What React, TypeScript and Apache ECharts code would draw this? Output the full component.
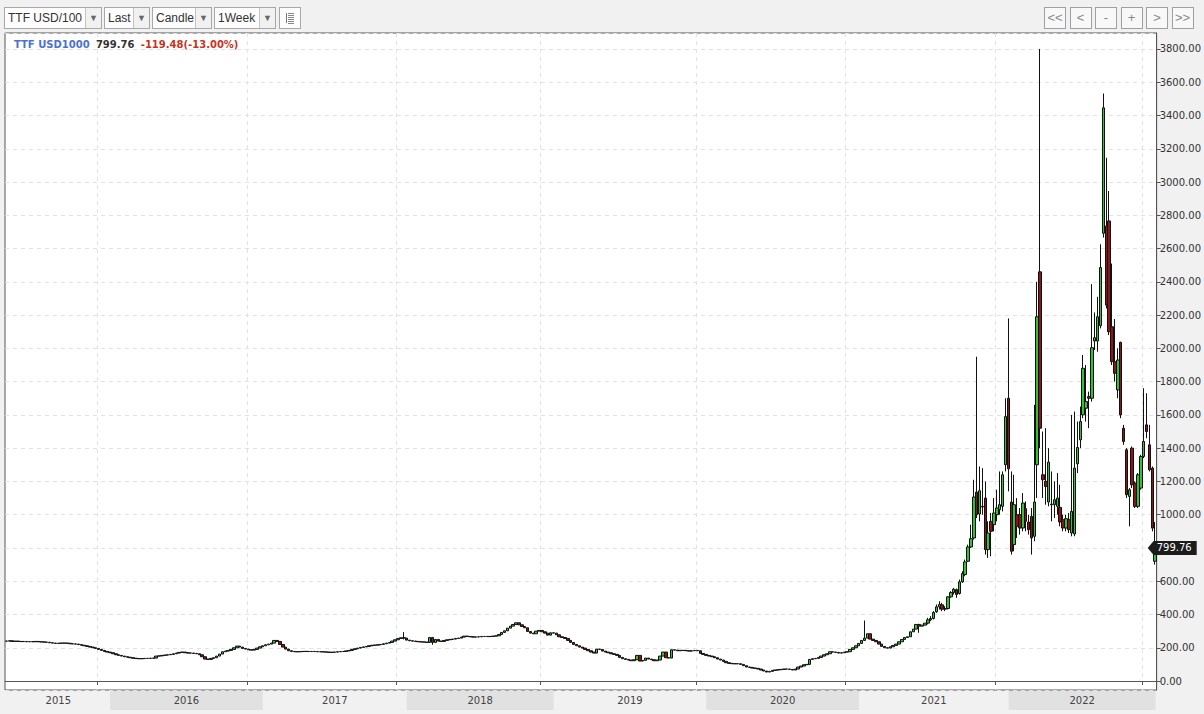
import { useEffect, useRef } from 'react';
import * as echarts from 'echarts';

// weekly candles, first week 2015-05-25
const startDate = Date.UTC(2015, 4, 25);

// quiet years: weekly closes (open = previous close)
const calmCloses = [
  240, 242, 238, 240, 238, 237, 238, 236, 237, 236, 238, 236, 235, 234, 233, 230, 228, 226, 227, 228,
  228, 227, 224, 223, 222, 219, 215, 212, 208, 204, 200, 196, 190,
  184, 178, 174, 170, 164, 158, 154, 150, 146, 143, 140, 137, 135, 134, 135, 136, 136, 137, 138, 150,
  151, 154, 156, 158, 160, 164, 168, 172, 174, 170, 168, 168, 166, 164, 158, 146, 132, 130, 136, 140,
  150, 162, 176, 180, 184, 190, 200, 210, 204, 196, 192, 188,
  186, 190, 198, 206, 212, 218, 222, 228, 244, 238, 220, 204, 192, 182, 178, 176, 176, 177, 178, 178,
  177, 178, 177, 176, 176, 175, 174, 172, 173, 174, 176, 177, 178, 181, 184, 190, 194, 198, 202, 205,
  208, 212, 215, 216, 218, 220, 224, 228, 232, 240, 248, 256,
  260, 258, 246, 242, 240, 238, 236, 235, 234, 232, 262, 232, 250, 240, 238, 244, 248, 250, 252, 256,
  258, 264, 270, 268, 266, 264, 265, 266, 268, 268, 267, 268, 270, 272, 280, 292, 302, 318, 330, 340,
  350, 338, 328, 320, 298, 288, 284, 300, 304, 296, 288, 276,
  290, 288, 278, 266, 262, 256, 244, 232, 220, 212, 204, 198, 190, 182, 174, 168, 192, 190, 180, 174,
  170, 164, 160, 154, 142, 134, 130, 126, 122, 128, 154, 120, 124, 138, 132, 128, 122, 126, 150, 174,
  140, 138, 188, 186, 182, 184, 184, 182, 180, 182, 184, 182,
  166, 160, 154, 150, 146, 140, 132, 126, 118, 110, 106, 104, 104, 104, 100, 92, 84, 82, 78, 76,
  72, 66, 60, 54, 58, 64, 66, 68, 70, 72, 72, 70, 66, 72, 84, 90, 98, 100, 130, 134,
  136, 142, 150, 158, 164, 176, 174, 172, 168, 170, 174, 176,
  190, 200, 212, 226, 244, 258, 284, 252, 244, 236, 222, 208, 200, 198, 206, 214, 222, 236, 250, 262,
  266, 296, 312, 340, 330, 336, 348,
];

// notable wicks in the quiet years: [week, low, high]
const calmWicks = [
  [138, 250, 294],
  [148, 218, 262],
  [298, 250, 364],
  [317, 290, 344],
];

// from week 320 on, full OHLC
const lateOpens = [
  348, 368, 376, 416, 446, 458, 432, 436, 506, 532, 550, 526, 596, 640, 720, 806, 860,
  1136, 1004, 1046, 1100, 790, 960, 940, 1000, 1030, 1050, 1300, 1700, 1076, 820, 1000, 1000, 920,
  1036, 956, 990, 870, 1300, 2460, 1240, 1200, 1076, 1060, 1060, 1050, 1044, 970, 920, 970, 890,
  884, 1306, 1450, 1600, 1640, 1710, 1700, 2044, 2044, 2136, 2692, 2736, 2766, 2130, 1920, 1750,
  2036, 1520, 1390, 1110, 1400, 1190, 1050, 1160, 1350, 1540, 1420, 1280, 720,
];
const lateCloses = [
  368, 376, 412, 446, 460, 432, 436, 506, 532, 552, 520, 596, 646, 716, 806, 856, 1106,
  1000, 1144, 1050, 790, 890, 900, 1010, 1040, 1060, 1240, 1590, 1276, 780, 1060, 930, 920, 1070,
  960, 910, 860, 1076, 2190, 1520, 1210, 1170, 1316, 1064, 1090, 1100, 956, 920, 976, 910, 1020,
  1280, 1404, 1560, 1880, 1680, 1700, 2004, 2064, 2190, 2486, 3446, 2260, 2100, 1920, 1850, 1930,
  1600, 1440, 1120, 1150, 1180, 1050, 1240, 1350, 1440, 1500, 1270, 919.24, 799.76,
];
const lateLows = [
  340, 360, 370, 410, 430, 420, 420, 430, 500, 520, 500, 520, 590, 630, 715, 800, 850,
  980, 960, 1000, 760, 740, 750, 900, 960, 1000, 1020, 1260, 1140, 760, 780, 860, 880, 900,
  900, 880, 760, 840, 1100, 1400, 1100, 1060, 1050, 960, 980, 1000, 930, 900, 900, 890, 870,
  870, 1250, 1400, 1580, 1560, 1520, 1680, 1990, 1980, 2120, 2666, 2240, 2080, 1900, 1800, 1700,
  1580, 1420, 1100, 930, 1160, 1040, 1040, 1150, 1340, 1460, 1260, 900, 700,
];
const lateHighs = [
  380, 390, 420, 460, 480, 470, 450, 510, 540, 560, 556, 610, 660, 730, 820, 940, 1210,
  1950, 1290, 1280, 1200, 960, 1010, 1100, 1150, 1260, 1260, 1700, 2180, 1260, 1240, 1100, 1040, 1130,
  1080, 1000, 1040, 1660, 2400, 3800, 1500, 1520, 1400, 1260, 1200, 1250, 1180, 1000, 1000, 1010, 1600,
  1620, 1560, 1650, 1960, 1900, 1740, 2386, 2216, 2310, 2626, 3532, 3146, 2946, 2510, 2176, 2000,
  2040, 1540, 1400, 1160, 1410, 1200, 1250, 1360, 1760, 1730, 1540, 1290, 956,
];

const yearLines = [32, 84, 136, 186, 240, 292, 344, 395];
const yearBands = [
  { year: '2015', from: 0, to: 36, shade: false },
  { year: '2016', from: 36, to: 89, shade: true },
  { year: '2017', from: 89, to: 139, shade: false },
  { year: '2018', from: 139, to: 190, shade: true },
  { year: '2019', from: 190, to: 243, shade: false },
  { year: '2020', from: 243, to: 296, shade: true },
  { year: '2021', from: 296, to: 348, shade: false },
  { year: '2022', from: 348, to: 399, shade: true },
];

const instrument = 'TTF USD1000';
const lastClose = 799.76;
const change = -119.48;
const changePct = -13.0;
// axis label hidden behind the last-price marker
const coveredTick = 800;

const dropdowns = [
  { label: 'TTF USD/100', x: 4, w: 96 },
  { label: 'Last', x: 104, w: 44 },
  { label: 'Candle', x: 152, w: 58 },
  { label: '1Week', x: 214, w: 60 },
];
const navButtons = ['<<', '<', '-', '+', '>', '>>'];

const FONT = "'DejaVu Sans', Verdana, sans-serif";

function Toolbar() {
  return (
    <>
      {dropdowns.map((d) => (
        <div
          key={d.label}
          style={{
            position: 'absolute', left: d.x, top: 7, width: d.w, height: 20,
            border: '1px solid #a8a8a8', background: '#fdfdfd', display: 'flex',
            fontFamily: "'Liberation Sans', Arial, sans-serif", fontSize: 12, color: '#333',
          }}
        >
          <div style={{ flex: 1, lineHeight: '20px', paddingLeft: 3, overflow: 'hidden', whiteSpace: 'nowrap' }}>{d.label}</div>
          <div style={{ width: 15, borderLeft: '1px solid #c4c4c4', background: '#f1f1f1', color: '#666', fontSize: 9, lineHeight: '20px', textAlign: 'center' }}>▼</div>
        </div>
      ))}
      <div style={{ position: 'absolute', left: 279, top: 7, width: 20, height: 20, border: '1px solid #a8a8a8', background: '#fdfdfd' }}>
        <svg width="20" height="20">
          <line x1="6.5" y1="5" x2="6.5" y2="15" stroke="#777" />
          {[5, 7, 9, 11, 13, 15].map((y) => (
            <line key={y} x1="8" y1={y + 0.5} x2="14" y2={y + 0.5} stroke="#888" />
          ))}
        </svg>
      </div>
      {navButtons.map((b, i) => (
        <div
          key={b + i}
          style={{
            position: 'absolute', left: 1044 + i * 25.5, top: 7, width: 20, height: 20,
            border: '1px solid #a0a0a0', background: '#f8f8f8', color: '#888',
            fontFamily: "'Liberation Sans', Arial, sans-serif", fontSize: 13,
            lineHeight: '20px', textAlign: 'center',
          }}
        >
          {b}
        </div>
      ))}
    </>
  );
}

export default function App() {
  const chartRef = useRef<HTMLDivElement>(null);

  useEffect(() => {
    document.body.style.margin = '0';
    if (!chartRef.current) return;
    const chart = echarts.init(chartRef.current, undefined, { renderer: 'svg' });

    const weeks = calmCloses.length + lateCloses.length;
    const dates = Array.from({ length: weeks }, (_, i) =>
      new Date(startDate + i * 7 * 86400000).toISOString().slice(0, 10)
    );

    const candles: number[][] = calmCloses.map((c, i) => {
      const o = i === 0 ? c : calmCloses[i - 1];
      return [o, c, Math.min(o, c), Math.max(o, c)];
    });
    calmWicks.forEach(([i, lo, hi]) => {
      candles[i][2] = Math.min(candles[i][2], lo);
      candles[i][3] = Math.max(candles[i][3], hi);
    });
    lateCloses.forEach((c, k) => candles.push([lateOpens[k], c, lateLows[k], lateHighs[k]]));

    const isYearLine = (idx: number) => yearLines.includes(idx);
    const fmtChange = `${change.toFixed(2)}(${changePct.toFixed(2)}%)`;

    const option = {
      animation: false,
      backgroundColor: '#f1f1f1',
      textStyle: { fontFamily: FONT },
      title: {
        left: 14,
        top: 35,
        padding: 0,
        text: `{a|${instrument}} {b|${lastClose.toFixed(2)}} {c|${fmtChange}}`,
        textStyle: {
          rich: {
            a: { color: '#4a72d0', fontWeight: 'bold', fontSize: 10, fontFamily: FONT },
            b: { color: '#333', fontWeight: 'bold', fontSize: 10, fontFamily: FONT },
            c: { color: '#c8321e', fontWeight: 'bold', fontSize: 10, fontFamily: FONT },
          },
        },
      },
      grid: [
        { left: 5, right: 47, top: 33, bottom: 24, show: true, backgroundColor: '#fff', borderColor: '#555', borderWidth: 1 },
        { left: 5, right: 47, top: 691, height: 19 },
      ],
      xAxis: [
        {
          type: 'category',
          data: dates,
          boundaryGap: true,
          axisLine: { lineStyle: { color: '#555' } },
          axisTick: { show: true, interval: isYearLine, length: 4, lineStyle: { color: '#555' } },
          axisLabel: { show: false },
          splitLine: { show: true, interval: isYearLine, lineStyle: { color: '#e2e2e2', type: [4, 4] } },
        },
        {
          type: 'category',
          gridIndex: 1,
          data: dates,
          boundaryGap: true,
          show: false,
        },
      ],
      yAxis: [
        {
          type: 'value',
          position: 'right',
          min: -54,
          max: 3896,
          splitNumber: 20,
          axisLine: { show: true, lineStyle: { color: '#555' } },
          axisTick: { show: true, length: 4, lineStyle: { color: '#555' } },
          axisLabel: {
            color: '#333',
            fontSize: 10,
            margin: 3,
            fontFamily: FONT,
            showMinLabel: false,
            showMaxLabel: false,
            formatter: (v: number) => (v === coveredTick ? '' : v.toFixed(2)),
          },
          splitLine: { show: true, lineStyle: { color: '#e2e2e2', type: [4, 4] } },
        },
        { type: 'value', gridIndex: 1, min: 0, max: 1, show: false },
      ],
      series: [
        {
          name: instrument,
          type: 'candlestick',
          data: candles,
          barWidth: 3,
          itemStyle: {
            color: '#33c233',
            color0: '#8e1515',
            borderColor: '#111',
            borderColor0: '#111',
            borderWidth: 1,
          },
          markPoint: {
            silent: true,
            symbol: 'path://M0,7 L6,0 L50,0 L50,14 L6,14 Z',
            symbolSize: [49, 14],
            symbolOffset: [17, 0],
            itemStyle: { color: '#1c1c1c' },
            label: {
              show: true,
              color: '#fff',
              fontSize: 10,
              fontFamily: FONT,
              offset: [2, 0],
              formatter: () => lastClose.toFixed(2),
            },
            data: [{ coord: [dates[weeks - 1], lastClose], value: lastClose }],
          },
        },
        {
          type: 'line',
          xAxisIndex: 1,
          yAxisIndex: 1,
          data: [],
          silent: true,
          markArea: {
            silent: true,
            label: { show: true, position: 'inside', color: '#444', fontSize: 10, fontFamily: FONT },
            data: yearBands.map((b) => [
              { name: b.year, xAxis: dates[b.from], itemStyle: { color: b.shade ? '#e1e1e1' : 'rgba(0,0,0,0)' } },
              { xAxis: dates[b.to] },
            ]),
          },
        },
      ],
    };

    chart.setOption(option);
    return () => {
      chart.dispose();
    };
  }, []);

  return (
    <div style={{ position: 'relative', width: 1204, height: 714, background: '#f1f1f1', overflow: 'hidden' }}>
      <div ref={chartRef} style={{ position: 'absolute', left: 0, top: 0, width: 1204, height: 714 }} />
      <Toolbar />
    </div>
  );
}
